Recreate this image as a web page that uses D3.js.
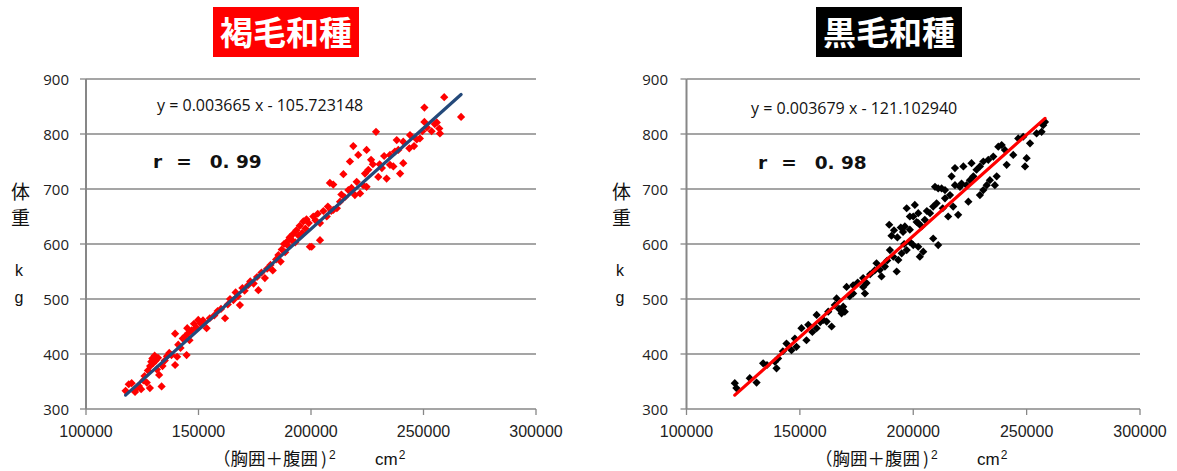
<!DOCTYPE html>
<html>
<head>
<meta charset="utf-8">
<script src="https://cdn.jsdelivr.net/npm/d3@7"></script>
<style>
  body { margin: 0; background: #fff; }
</style>
</head>
<body>
<svg id="chart" width="1177" height="471"></svg>
<script>
// axis ticks
const xTicks = [100000, 150000, 200000, 250000, 300000];
const yTicks = [300, 400, 500, 600, 700, 800, 900];

// 褐毛和種 : [(胸囲+腹囲)^2, 体重]
const brownData = [
  [117600,333],[119000,345],[120300,347],[121800,331],[122500,338],[123500,342],[124500,336],[125500,352],
  [126000,360],[127000,348],[127500,370],[128400,338],[128500,378],[129000,386],[129500,392],[130000,384],
  [130500,397],[131000,388],[131500,372],[132000,393],[132500,362],[133600,341],[134000,378],[135000,388],
  [136000,396],[137000,402],[138000,398],[139600,437],[139600,380],[140500,395],[141000,417],[142000,411],
  [143000,428],[144000,432],[144700,398],[145000,447],[145500,438],[146000,425],[147000,443],[148000,455],
  [149000,448],[149900,462],[151000,455],[152000,461],[153600,447],[155000,465],[157000,470],[158500,478],
  [160000,482],[161800,465],[163000,490],[164000,500],[165500,498],[166500,512],[167500,505],[168400,489],
  [169500,520],[170500,515],[172000,525],[173000,532],[174500,528],[176000,540],[176600,516],[178000,548],
  [179500,538],[180500,555],[182000,562],[183000,552],[184500,572],[185500,580],[186500,568],[187000,590],
  [188000,600],[188500,585],[189500,605],[190000,596],[190500,612],[191500,607],[192000,618],[193000,603],
  [193500,625],[194500,615],[195000,633],[196000,620],[196600,641],[197500,628],[198000,645],[199000,638],
  [199500,595],[200300,595],[201000,650],[202000,643],[203000,655],[204000,607],[204000,638],[205500,660],
  [207000,650],[207500,668],[208400,711],[209000,660],[209900,708],[209900,662],[211500,665],[212900,677],
  [213500,690],[214400,727],[215000,685],[216600,698],[217300,750],[218000,702],[218800,778],[219500,689],
  [220300,713],[221000,762],[221800,692],[223200,707],[224000,728],[224700,771],[224700,704],[225500,735],
  [226700,753],[227500,745],[228900,804],[229900,722],[230500,745],[231500,738],[232500,760],[233600,719],
  [235100,762],[235100,744],[236600,741],[237300,768],[238100,789],[238800,771],[239600,728],[241000,786],
  [241000,747],[243700,774],[244000,798],[245800,778],[247000,790],[248400,792],[249500,805],[250400,848],
  [250400,822],[251500,812],[253600,805],[255000,818],[255900,821],[257000,810],[257300,801],[259200,867],
  [266700,831]
];

// 黒毛和種
const blackData = [
  [121300,347],[122000,338],[127900,356],[130900,348],[133800,383],[135500,380],[139000,386],[140400,392],
  [139700,374],[142500,405],[144100,419],[146300,407],[147800,428],[148500,413],[150700,447],[152900,425],
  [153700,453],[155500,440],[157400,471],[157400,447],[159000,458],[160300,462],[161800,459],[162500,477],
  [164000,450],[165400,489],[166200,501],[167300,482],[168400,474],[169100,486],[169800,477],[170600,522],
  [172000,505],[173500,510],[173500,525],[175500,530],[177900,538],[178700,510],[177900,522],[179400,529],
  [181000,545],[183000,552],[183800,565],[185300,553],[186000,541],[187500,559],[188500,570],[189700,589],
  [191200,577],[192700,550],[193400,571],[194900,583],[196000,600],[197100,589],[200000,598],[202900,577],
  [198500,604],[189400,635],[190400,615],[191500,625],[193000,612],[194500,630],[195500,622],[196300,632],
  [197100,665],[198500,626],[198500,650],[200000,650],[200700,671],[201500,640],[202200,638],[202200,656],
  [202200,595],[203700,632],[204400,586],[205100,644],[206000,660],[207400,656],[208800,668],[208800,610],
  [209600,704],[210300,674],[211000,701],[211000,598],[212500,701],[213000,665],[214000,698],[214000,683],
  [215400,650],[216200,689],[216900,723],[217600,668],[218400,707],[218400,738],[219800,653],[220600,704],
  [221300,710],[222100,741],[223500,707],[224300,677],[225000,716],[225700,747],[226500,723],[227900,735],
  [229400,741],[229400,689],[230900,750],[230900,698],[232400,707],[233100,753],[233800,716],[235300,759],
  [236000,707],[236800,723],[237500,777],[239000,780],[240400,771],[241200,744],[244100,762],[246300,792],
  [248500,795],[249300,741],[250000,756],[251500,783],[254400,801],[256600,804],[257300,816],[258100,822]
];

const panels = [
  { title: "褐毛和種", titleFill: "#ff0000", data: brownData, dot: "#ff0000", line: "#24497a",
    slope: 0.003665, intercept: -105.723148, eq: "y = 0.003665 x - 105.723148", r: "0. 99",
    xRange: [86, 536], titleBox: [213, 7, 146, 50], eqPos: [157, 111], rPos: [153, 168],
    yLab: 11, yTickEnd: 69, xTitle: 213 },
  { title: "黒毛和種", titleFill: "#000000", data: blackData, dot: "#000000", line: "#ff0000",
    slope: 0.003679, intercept: -121.102940, eq: "y = 0.003679 x - 121.102940", r: "0. 98",
    xRange: [686.5, 1140], titleBox: [816, 7, 146, 50], eqPos: [751, 114], rPos: [758, 169],
    yLab: 612, yTickEnd: 668, xTitle: 815 }
];

const svg = d3.select("#chart");
const gridColor = "#878787";

function drawPanel(p) {
  const g = svg.append("g");
  const x = d3.scaleLinear().domain([100000, 300000]).range(p.xRange);
  const y = d3.scaleLinear().domain([300, 900]).range([409, 79]);

  // gridlines
  g.selectAll(".grid").data(yTicks.slice(1)).join("line")
    .attr("x1", x(100000)).attr("x2", x(300000))
    .attr("y1", d => y(d)).attr("y2", d => y(d))
    .attr("stroke", gridColor).attr("stroke-width", 1.3);

  // y ticks + labels
  g.selectAll(".ytick").data(yTicks).join("line")
    .attr("x1", x(100000) - 6).attr("x2", x(100000))
    .attr("y1", d => y(d)).attr("y2", d => y(d))
    .attr("stroke", gridColor).attr("stroke-width", 1.3);
  g.selectAll(".ylab").data(yTicks).join("text")
    .attr("x", p.yTickEnd).attr("y", d => y(d) + 6)
    .attr("text-anchor", "end")
    .style("font-family", "'Open Sans', sans-serif").style("font-size", "15px").attr("fill", "#222")
    .text(d => d);

  // x ticks + labels
  g.selectAll(".xtick").data(xTicks).join("line")
    .attr("x1", d => x(d)).attr("x2", d => x(d))
    .attr("y1", 409).attr("y2", 415)
    .attr("stroke", gridColor).attr("stroke-width", 1.3);
  g.selectAll(".xlab").data(xTicks).join("text")
    .attr("x", d => x(d)).attr("y", 437)
    .attr("text-anchor", "middle")
    .style("font-family", "'Liberation Sans', Arial, sans-serif").style("font-size", "16px").attr("fill", "#222")
    .text(d => d);

  // axis lines
  g.append("line").attr("x1", x(100000)).attr("x2", x(100000)).attr("y1", y(900)).attr("y2", y(300))
    .attr("stroke", gridColor).attr("stroke-width", 2);
  g.append("line").attr("x1", x(100000)).attr("x2", x(300000)).attr("y1", y(300)).attr("y2", y(300))
    .attr("stroke", gridColor).attr("stroke-width", 1.5);

  // points
  g.selectAll(".pt").data(p.data).join("path")
    .attr("d", d3.symbol(d3.symbolSquare, 34))
    .attr("transform", d => `translate(${x(d[0])},${y(d[1])}) rotate(45)`)
    .attr("fill", p.dot);

  // trend line from the stated equation over the data range
  const ext = d3.extent(p.data, d => d[0]);
  g.append("path")
    .datum(ext)
    .attr("fill", "none").attr("stroke", p.line).attr("stroke-width", 3.2).attr("stroke-linecap", "round")
    .attr("d", d3.line().x(d => x(d)).y(d => y(p.slope * d + p.intercept)));

  // equation and r
  g.append("text").attr("x", p.eqPos[0]).attr("y", p.eqPos[1])
    .style("font-family", "'Open Sans', sans-serif").style("font-size", "16px").attr("fill", "#111")
    .text(p.eq);
  const rt = g.append("text").attr("x", p.rPos[0]).attr("y", p.rPos[1])
    .style("font-family", "'DejaVu Sans', sans-serif").style("font-size", "18.5px").style("font-weight", "bold")
    .attr("fill", "#111");
  rt.append("tspan").text("r");
  rt.append("tspan").attr("dx", 14).text("=");
  rt.append("tspan").attr("dx", 18).text(p.r);

  // title
  const tb = p.titleBox;
  g.append("rect").attr("x", tb[0]).attr("y", tb[1]).attr("width", tb[2]).attr("height", tb[3]).attr("fill", p.titleFill);
  g.append("text").attr("x", tb[0] + tb[2] / 2).attr("y", tb[1] + 38)
    .attr("text-anchor", "middle")
    .style("font-family", "'Noto Sans CJK JP', sans-serif").style("font-size", "33px").style("font-weight", "bold")
    .attr("fill", "#fff").text(p.title);

  // y-axis title
  const cjk = "'Noto Sans CJK JP', sans-serif";
  g.append("text").attr("x", p.yLab).attr("y", 199).style("font-family", cjk).style("font-size", "19px").attr("fill", "#111").text("体");
  g.append("text").attr("x", p.yLab).attr("y", 225).style("font-family", cjk).style("font-size", "19px").attr("fill", "#111").text("重");
  g.append("text").attr("x", p.yLab + 8).attr("y", 276).attr("text-anchor", "middle").style("font-family", "'Liberation Sans', sans-serif").style("font-size", "16px").attr("fill", "#111").text("k");
  g.append("text").attr("x", p.yLab + 8).attr("y", 303).attr("text-anchor", "middle").style("font-family", "'Liberation Sans', sans-serif").style("font-size", "16px").attr("fill", "#111").text("g");

  // x-axis title
  const xt = g.append("text").attr("x", p.xTitle).attr("y", 465)
    .style("font-family", cjk).style("font-size", "17.5px").attr("fill", "#111");
  xt.append("tspan").text("（胸囲＋腹囲");
  xt.append("tspan").attr("dx", 3).text(")");
  xt.append("tspan").attr("dx", 2).attr("dy", -6).style("font-family", "'Liberation Sans', sans-serif").style("font-size", "12px").text("2");
  const ct = g.append("text").attr("x", p.xTitle + 162).attr("y", 465)
    .style("font-family", "'Liberation Sans', sans-serif").style("font-size", "17px").attr("fill", "#111");
  ct.append("tspan").text("cm");
  ct.append("tspan").attr("dx", 1).attr("dy", -6).style("font-size", "12px").text("2");
}

panels.forEach(drawPanel);
</script>
</body>
</html>
